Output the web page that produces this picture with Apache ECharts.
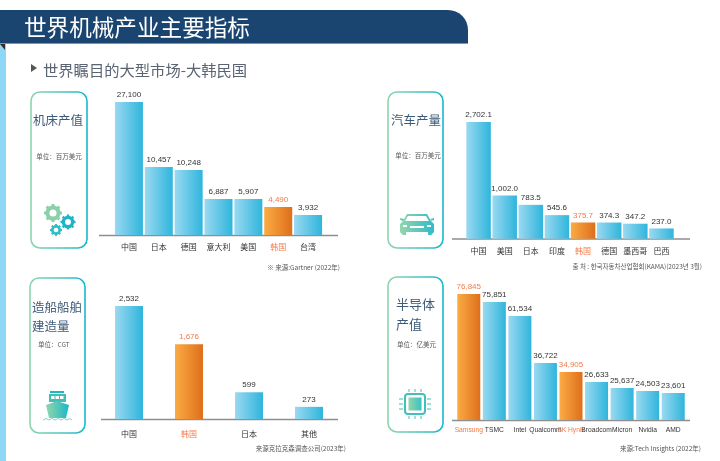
<!DOCTYPE html>
<html>
<head>
<meta charset="utf-8">
<style>html,body{margin:0;padding:0;background:#fff}#main{width:720px;height:461px}</style>
<script src="https://cdn.jsdelivr.net/npm/echarts@6/dist/echarts.min.js"></script>
</head>
<body>
<div id="main"></div>
<script>
// printed labels
var toolCats = ['中国', '日本', '德国', '意大利', '美国', '韩国', '台湾'];
var toolLabels = ['27,100', '10,457', '10,248', '6,887', '5,907', '4,490', '3,932'];
// the reference bars are not to scale with their labels, so these are the lengths as drawn, in label units
var toolDrawn = [27100, 13860, 13250, 7340, 7340, 5710, 4080];

var carCats = ['中国', '美国', '日本', '印度', '韩国', '德国', '墨西哥', '巴西'];
var carLabels = ['2,702.1', '1,002.0', '783.5', '545.6', '375.7', '374.3', '347.2', '237.0'];
var carDrawn = [2702.1, 1002.0, 783.5, 545.6, 375.7, 374.3, 347.2, 237.0];

var shipCats = ['中国', '韩国', '日本', '其他'];
var shipLabels = ['2,532', '1,676', '599', '273'];
var shipDrawn = [2532, 1676, 599, 273];

var chipCats = ['Samsung', 'TSMC', 'Intel', 'Qualcomm', 'SK Hynix', 'Broadcom', 'Micron', 'Nvidia', 'AMD'];
var chipLabels = ['76,845', '75,851', '61,534', '36,722', '34,905', '26,633', '25,637', '24,503', '23,601'];
var chipDrawn = [76845, 71980, 63440, 34770, 29280, 23180, 19520, 17690, 16470];

var FONT = '"Noto Sans CJK SC", "Noto Sans", sans-serif';
var LATIN = '"Liberation Sans", "Noto Sans", sans-serif';
var KOREA = '#f4784a';

var chart = echarts.init(document.getElementById('main'), null, {renderer: 'canvas'});

function hGrad(a, b) {
	return new echarts.graphic.LinearGradient(0, 0, 1, 0, [{offset: 0, color: a}, {offset: 1, color: b}]);
}
var BLUE = hGrad('#9ad9f1', '#2fb5dc');
var ORANGE = hGrad('#fbab45', '#de6f1b');
var ICON = hGrad('#92d6ac', '#13b7cf');

function isKorea(name) {
	return name == '韩国' || name == 'Samsung' || name == 'SK Hynix';
}

var grids = [
	{left: 114, width: 209, top: 102, height: 133},
	{left: 465.5, width: 209, top: 122, height: 116.7},
	{left: 99, width: 240, top: 306, height: 113},
	{left: 456, width: 230, top: 294, height: 126}
];
var sets = [
	{cats: toolCats, labels: toolLabels, drawn: toolDrawn, bar: 28, margin: 8, font: FONT, size: 8},
	{cats: carCats, labels: carLabels, drawn: carDrawn, bar: 24.5, margin: 8, font: FONT, size: 8},
	{cats: shipCats, labels: shipLabels, drawn: shipDrawn, bar: 28, margin: 11, font: FONT, size: 8},
	{cats: chipCats, labels: chipLabels, drawn: chipDrawn, bar: 23, margin: 7, font: LATIN, size: 6.7}
];

var xAxes = [], yAxes = [], series = [];
sets.forEach(function(s, i) {
	xAxes.push({
		type: 'category',
		gridIndex: i,
		data: s.cats,
		axisLine: {show: false},
		axisTick: {show: false},
		axisLabel: {
			interval: 0,
			margin: s.margin,
			fontSize: s.size,
			fontFamily: s.font,
			hideOverlap: false,
			color: function(v) {
				return isKorea(v) ? KOREA : '#333';
			}
		}
	});
	yAxes.push({
		type: 'value',
		gridIndex: i,
		min: 0,
		max: s.drawn[0],
		show: false
	});
	series.push({
		type: 'bar',
		xAxisIndex: i,
		yAxisIndex: i,
		barWidth: s.bar,
		silent: true,
		animation: false,
		data: s.drawn.map(function(v, j) {
			var k = isKorea(s.cats[j]);
			return {
				value: v,
				itemStyle: {color: k ? ORANGE : BLUE},
				label: {color: k ? KOREA : '#333'}
			};
		}),
		label: {
			show: true,
			position: 'top',
			distance: 3,
			fontSize: 8,
			fontFamily: LATIN,
			formatter: function(p) {
				return s.labels[p.dataIndex];
			}
		},
		labelLayout: {hideOverlap: false}
	});
});

function txt(x, y, text, size, color, align) {
	return {
		type: 'text',
		x: x,
		y: y,
		style: {
			text: text,
			fontSize: size,
			fontFamily: FONT,
			fill: color,
			align: align || 'left',
			verticalAlign: 'middle'
		}
	};
}
function card(x, y, w, h) {
	return {
		type: 'rect',
		shape: {x: x, y: y, width: w, height: h, r: 9},
		style: {fill: 'none', stroke: ICON, lineWidth: 1.6}
	};
}
function baseline(x1, x2, y) {
	return {
		type: 'line',
		shape: {x1: x1, y1: y, x2: x2, y2: y},
		style: {stroke: '#8e8e8e', lineWidth: 1.4}
	};
}
function gear(cx, cy, r, color) {
	var kids = [{
		type: 'circle',
		shape: {cx: cx, cy: cy, r: r * 0.62},
		style: {fill: 'none', stroke: color, lineWidth: r * 0.45}
	}];
	for (var i = 0; i < 8; i++) {
		var a = i * Math.PI / 4;
		kids.push({
			type: 'line',
			shape: {
				x1: cx + Math.cos(a) * r * 0.7, y1: cy + Math.sin(a) * r * 0.7,
				x2: cx + Math.cos(a) * r, y2: cy + Math.sin(a) * r
			},
			style: {stroke: color, lineWidth: r * 0.32}
		});
	}
	return {type: 'group', children: kids};
}
function poly(points, fill) {
	return {type: 'polygon', shape: {points: points}, style: {fill: fill}};
}
function box(x, y, w, h, fill, r) {
	return {type: 'rect', shape: {x: x, y: y, width: w, height: h, r: r || 0}, style: {fill: fill}};
}
function stroke(x1, y1, x2, y2, color) {
	return {type: 'line', shape: {x1: x1, y1: y1, x2: x2, y2: y2}, style: {stroke: color, lineWidth: 1}};
}

var carGrad = hGrad('#92d6ac', '#2fbcc8');
var carIcon = [
	poly([[407, 214], [427, 214], [431, 221], [434, 224], [434, 232], [431, 235], [428, 235], [428, 232], [406, 232], [406, 235], [403, 235], [400, 232], [400, 224], [403, 221]], carGrad),
	poly([[408, 216], [426, 216], [429, 221], [405, 221]], '#fff'),
	box(410, 226, 14, 2, '#fff'),
	box(403, 225, 4, 2, '#fff'),
	box(427, 225, 4, 2, '#fff'),
	poly([[400, 218], [404, 219], [403, 221], [400, 220]], carGrad),
	poly([[434, 218], [430, 219], [431, 221], [434, 220]], carGrad)
];
var shipGrad = hGrad('#92d6ac', '#1bb8c6');
var shipIcon = [
	box(50, 391, 14, 2, '#1bb8c6'),
	box(49, 394, 17, 8, '#3fbfb5'),
	box(51, 396, 3.5, 3, '#fff'),
	box(55.5, 396, 3.5, 3, '#fff'),
	box(60, 396, 3.5, 3, '#fff'),
	poly([[46, 405], [57, 401], [69, 405], [66, 418], [49, 418]], shipGrad),
	{
		type: 'polyline',
		shape: {points: [[43, 420], [46, 418.5], [49, 420], [52, 418.5], [55, 420], [58, 418.5], [61, 420], [64, 418.5], [67, 420], [70, 418.5], [72, 420]]},
		style: {fill: 'none', stroke: '#5cc9c4', lineWidth: 0.8}
	}
];
var chipIcon = [
	{
		type: 'rect',
		shape: {x: 405, y: 394, width: 20, height: 20, r: 3},
		style: {fill: '#fff', stroke: '#45c0b8', lineWidth: 2}
	},
	box(408.5, 397.5, 13, 13, hGrad('#92d6ac', '#3dbfc4'))
];
[409, 415, 421].forEach(function(v) {
	chipIcon.push(stroke(v, 389, v, 392, '#45c0b8'));
	chipIcon.push(stroke(v, 416, v, 419, '#45c0b8'));
});
[399, 404, 409].forEach(function(v) {
	chipIcon.push(stroke(399, v, 403, v, '#45c0b8'));
	chipIcon.push(stroke(427, v, 431, v, '#45c0b8'));
});

var TITLE = '#3d5a78';
var SUB = '#555555';
var graphics = [
	box(0, 44, 6, 417, '#8dd8f6'),
	poly([[0, 44], [5, 44], [5, 50]], '#3d2a20'),
	{
		type: 'rect',
		shape: {x: -30, y: 10, width: 498, height: 33, r: [20, 20, 0, 0]},
		style: {fill: '#1a4570'}
	},
	{type: 'line', shape: {x1: 0, y1: 43.5, x2: 468, y2: 43.5}, style: {stroke: '#7f95ad', lineWidth: 1}},
	txt(24, 27, '世界机械产业主要指标', 22.6, '#ffffff'),
	poly([[31, 64], [37, 68], [31, 72]], '#555555'),
	txt(43, 70, '世界瞩目的大型市场-大韩民国', 15.3, '#5a6472'),

	card(31, 92, 56, 156),
	txt(58, 120, '机床产值', 12.5, TITLE, 'center'),
	txt(59, 157, '单位：百万美元', 6.5, SUB, 'center'),
	gear(53, 213, 9, '#8ccfa8'),
	gear(68, 222, 7.5, '#1fb5c9'),
	gear(56, 230, 6, '#2dbfc4'),

	card(388, 92, 55, 156),
	txt(416, 120, '汽车产量', 12.5, TITLE, 'center'),
	txt(418, 156, '单位：百万美元', 6.5, SUB, 'center'),

	card(30, 278, 55, 155),
	txt(32, 307, '造船船舶', 12.5, TITLE),
	txt(32, 326, '建造量', 12.5, TITLE),
	txt(38, 345, '单位：CGT', 6.5, SUB),

	card(388, 277, 55, 155),
	txt(396, 304, '半导体', 13, TITLE),
	txt(396, 324, '产值', 13, TITLE),
	txt(397, 345, '单位：亿美元', 6.5, SUB),

	baseline(99, 338, 235.5),
	baseline(452, 690, 239),
	baseline(101, 338, 419.5),
	baseline(452, 690, 420.5),

	txt(340, 268, '※ 来源:Gartner (2022年)', 6.5, SUB, 'right'),
	txt(702, 267, '출 처 : 한국자동차산업협회(KAMA)(2023년 3월)', 6.5, SUB, 'right'),
	txt(346, 449, '来源克拉克森调查公司(2023年)', 6.5, SUB, 'right'),
	txt(701, 449, '来源:Tech Insights (2022年)', 6.5, SUB, 'right')
].concat(carIcon, shipIcon, chipIcon);

chart.setOption({
	animation: false,
	backgroundColor: '#ffffff',
	grid: grids,
	xAxis: xAxes,
	yAxis: yAxes,
	series: series,
	graphic: {elements: graphics}
});
</script>
</body>
</html>
